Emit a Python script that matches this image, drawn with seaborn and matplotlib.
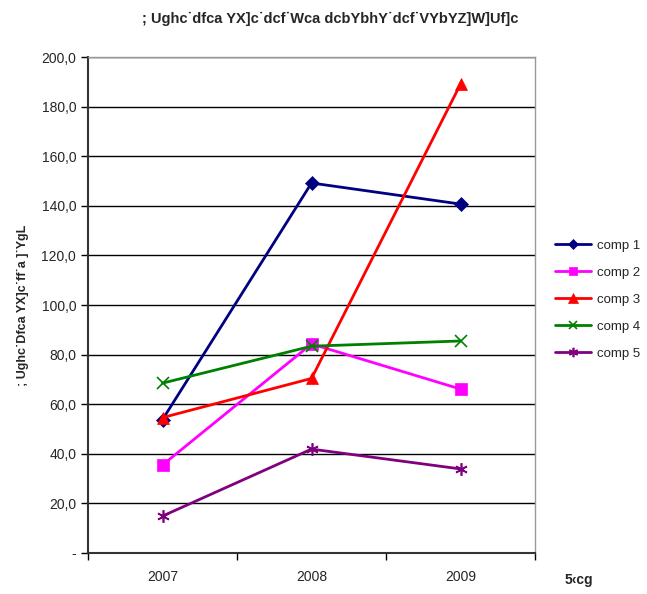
import matplotlib
matplotlib.use("Agg")
import matplotlib.pyplot as plt
import seaborn as sns
import pandas as pd
from matplotlib.ticker import FixedLocator, FuncFormatter

years = ["2007", "2008", "2009"]
series_names = ["comp 1", "comp 2", "comp 3", "comp 4", "comp 5"]
comp1 = [53.8, 149.2, 140.7]
comp2 = [35.5, 84.3, 66.1]
comp3 = [54.6, 70.4, 189.1]
comp4 = [68.5, 83.4, 85.5]
comp5 = [14.9, 41.9, 33.9]
title_text = "; Ughc˙dfca YX]c˙dcf˙Wca dcbYbhY˙dcf˙VYbYZ]W]Uf]c"
ylabel_text = "; Ughc˙Dfca YX]c˙ff˙a ]˙YgL"
xlabel_text = "5‹cg"

sns.set_theme(style="white")
plt.rcParams["font.family"] = ["Liberation Sans", "DejaVu Sans"]

rows = []
for name, vals in zip(series_names, [comp1, comp2, comp3, comp4, comp5]):
    for i, (y, v) in enumerate(zip(years, vals)):
        rows.append({"pos": i, "year": y, "value": v, "serie": name})
df = pd.DataFrame(rows)

palette = {"comp 1": "#000080", "comp 2": "#FF00FF", "comp 3": "#FF0000",
           "comp 4": "#008000", "comp 5": "#800080"}
markers = {"comp 1": "D", "comp 2": "s", "comp 3": "^", "comp 4": "x", "comp 5": (6, 2, 0)}
msizes = {"comp 1": 7, "comp 2": 8, "comp 3": 9, "comp 4": 8, "comp 5": 9}

fig = plt.figure(figsize=(6.47, 5.94), dpi=100)
ax = fig.add_axes([0.136, 0.069, 0.691, 0.835])

for name in series_names:
    sub = df[df["serie"] == name]
    sns.lineplot(data=sub, x="pos", y="value", ax=ax, color=palette[name],
                 marker=markers[name], markersize=msizes[name], linewidth=2,
                 markeredgecolor=palette[name], markeredgewidth=1.2 if name in ("comp 4", "comp 5") else 0.5,
                 label=name, legend=False)

ax.set_xlim(-0.5, 2.5)
ax.set_ylim(0, 200)
ax.yaxis.set_major_locator(FixedLocator(list(range(0, 201, 20))))
ax.yaxis.set_major_formatter(FuncFormatter(lambda v, p: "-" if v == 0 else f"{v:.1f}".replace(".", ",")))
ax.xaxis.set_major_locator(FixedLocator([-0.5, 0.5, 1.5, 2.5]))
ax.xaxis.set_major_formatter(FuncFormatter(lambda v, p: ""))
ax.xaxis.set_minor_locator(FixedLocator([0, 1, 2]))
ax.xaxis.set_minor_formatter(FuncFormatter(lambda v, p: years[int(round(v))]))
ax.tick_params(axis="x", which="major", length=5, width=1, color="black", direction="out", bottom=True)
ax.tick_params(axis="x", which="minor", length=0, labelsize=10, pad=12, bottom=True)
ax.tick_params(axis="y", length=5, width=1, color="black", direction="out", labelsize=10, left=True)

ax.grid(axis="y", color="black", linewidth=1)
ax.set_axisbelow(True)
for s in ["top", "right"]:
    ax.spines[s].set_color("#999999")
    ax.spines[s].set_linewidth(1)
for s in ["left", "bottom"]:
    ax.spines[s].set_color("#333333")
    ax.spines[s].set_linewidth(1.5)

ax.set_xlabel("")
ax.set_ylabel(ylabel_text, fontsize=9, fontweight="bold", labelpad=9)
fig.text(0.51, 0.968, title_text, ha="center", va="center", fontsize=10.5, fontweight="bold")
fig.text(0.895, 0.012, xlabel_text, ha="center", va="bottom", fontsize=10, fontweight="bold")

handles, labels = ax.get_legend_handles_labels()
fig.legend(handles, labels, loc="center left", bbox_to_anchor=(0.858, 0.495), frameon=False,
           fontsize=9.5, handlelength=2.7, labelspacing=1.12, handletextpad=0.5,
           markerscale=0.75, borderaxespad=0, borderpad=0)

fig.savefig("out.png", dpi=100)
